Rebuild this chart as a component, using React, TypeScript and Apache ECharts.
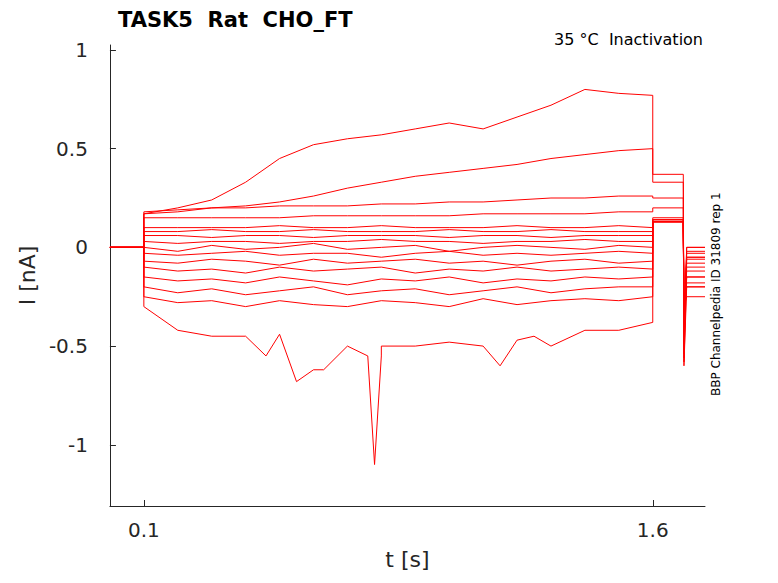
import React, { useEffect, useRef } from 'react';
import * as echarts from 'echarts';

// sample times during the step (s)
const stepTimes = [0.1, 0.2, 0.3, 0.4, 0.5, 0.6, 0.7, 0.8, 0.9, 1.0, 1.1, 1.2, 1.3, 1.4, 1.5, 1.6];
const xTicks = [0.1, 1.6];
const yTicks = [-1, -0.5, 0, 0.5, 1];

// current (nA) at stepTimes for each sweep
const sweeps: number[][] = [
  [0.17, 0.2, 0.24, 0.33, 0.45, 0.52, 0.55, 0.57, 0.6, 0.63, 0.6, 0.66, 0.72, 0.8, 0.78, 0.77],
  [0.17, 0.18, 0.2, 0.21, 0.23, 0.26, 0.3, 0.33, 0.36, 0.38, 0.4, 0.42, 0.45, 0.47, 0.49, 0.5],
  [0.18, 0.19, 0.2, 0.2, 0.21, 0.21, 0.21, 0.22, 0.22, 0.23, 0.23, 0.24, 0.25, 0.25, 0.26, 0.26],
  [0.15, 0.15, 0.15, 0.15, 0.15, 0.16, 0.16, 0.16, 0.16, 0.16, 0.17, 0.17, 0.17, 0.17, 0.18, 0.18],
  [0.1, 0.1, 0.1, 0.1, 0.11, 0.1, 0.1, 0.11, 0.1, 0.1, 0.1, 0.11, 0.1, 0.1, 0.11, 0.1],
  [0.08, 0.08, 0.09, 0.08, 0.08, 0.09, 0.08, 0.08, 0.08, 0.09, 0.08, 0.08, 0.09, 0.08, 0.08, 0.08],
  [0.06, 0.06, 0.05, 0.06, 0.06, 0.05, 0.06, 0.06, 0.06, 0.05, 0.06, 0.06, 0.05, 0.06, 0.06, 0.06],
  [0.03, 0.02, 0.03, 0.03, 0.02, 0.03, 0.03, 0.04, 0.03, 0.03, 0.02, 0.03, 0.03, 0.04, 0.03, 0.03],
  [0.0, -0.02, 0.01, -0.01, 0.0, 0.02, -0.01, 0.0, 0.01, -0.02, 0.0, 0.01, 0.0, -0.01, 0.01, 0.0],
  [-0.03, -0.04, -0.03, -0.02, -0.04, -0.03, -0.03, -0.05, -0.03, -0.02, -0.04, -0.03, -0.04, -0.03, -0.02, -0.03],
  [-0.07, -0.08, -0.06, -0.07, -0.09, -0.06, -0.08, -0.07, -0.06, -0.08, -0.07, -0.09, -0.07, -0.06, -0.08, -0.07],
  [-0.1, -0.12, -0.11, -0.13, -0.1, -0.12, -0.11, -0.1, -0.13, -0.11, -0.12, -0.1, -0.12, -0.11, -0.1, -0.11],
  [-0.15, -0.17, -0.16, -0.18, -0.15, -0.17, -0.19, -0.16, -0.17, -0.15, -0.18, -0.16, -0.17, -0.15, -0.16, -0.15],
  [-0.2, -0.23, -0.21, -0.24, -0.22, -0.2, -0.24, -0.22, -0.21, -0.24, -0.22, -0.2, -0.23, -0.21, -0.2, -0.2],
  [-0.25, -0.28, -0.27, -0.3, -0.27, -0.29, -0.3, -0.27, -0.28, -0.3, -0.26, -0.29, -0.27, -0.26, -0.27, -0.25],
  [-0.3, -0.42, -0.45, -0.45, -0.44, -0.62, -0.5, -0.55, -0.5, -0.48, -0.5, -0.47, -0.5, -0.42, -0.42, -0.38],
];
// current after the step (1.6–1.69 s) and after 1.69 s
const tailHigh = [0.37, 0.33, 0.25, 0.2, 0.15, 0.14, 0.14, 0.14, 0.13, 0.13, 0.13, 0.13, 0.13, 0.13, 0.13, 0.13];
const tailLow = [-0.2, -0.15, -0.05, 0.0, 0.0, -0.02, -0.03, -0.05, -0.06, -0.08, -0.1, -0.12, -0.15, -0.18, -0.2, -0.25];
// extra spikes in the bottom sweep: [t, nA]
const bottomSpikes = [[0.46, -0.55], [0.55, -0.68], [0.63, -0.62], [0.7, -0.5], [0.76, -0.55], [0.78, -1.1], [0.8, -0.5], [1.15, -0.6], [1.25, -0.45]];

const App: React.FC = () => {
  const chartRef = useRef<HTMLDivElement>(null);

  useEffect(() => {
    if (!chartRef.current) return;
    const chart = echarts.init(chartRef.current, null, { renderer: 'svg' });

    const series = sweeps.map((vals, i) => {
      let pts: number[][] = stepTimes.map((t, j) => [t, vals[j]]);
      if (i === sweeps.length - 1) {
        pts = pts.concat(bottomSpikes).sort((a, b) => a[0] - b[0]);
      }
      const data = [[0, 0], [0.095, 0], [0.1, 0], ...pts,
        [1.6, tailHigh[i]], [1.69, tailHigh[i]], [1.692, -0.6 + i * 0.02], [1.7, tailLow[i]], [1.754, tailLow[i]]];
      return {
        type: 'line',
        data,
        showSymbol: false,
        lineStyle: { color: '#ff0000', width: 1 },
        silent: true,
      };
    });

    const axisText = { color: '#262626', fontSize: 20, fontFamily: 'DejaVu Sans' };
    chart.setOption({
      animation: false,
      grid: { left: 93, right: 65, top: 37, bottom: 63 },
      title: {
        text: 'TASK5  Rat  CHO_FT',
        left: 105, top: -4,
        textStyle: { fontSize: 21, fontWeight: 'bold', color: '#000', fontFamily: 'DejaVu Sans' },
      },
      graphic: [
        { type: 'text', right: 67, top: 23, style: { text: '35 °C  Inactivation', fontSize: 16, fill: '#000', fontFamily: 'DejaVu Sans' } },
        { type: 'text', x: 702, y: 388, rotation: Math.PI / 2, style: { text: 'BBP Channelpedia ID 31809 rep 1', fontSize: 12, fill: '#000', fontFamily: 'DejaVu Sans' } },
      ],
      xAxis: {
        type: 'value', min: 0, max: 1.754,
        name: 't [s]', nameLocation: 'middle', nameGap: 42, nameTextStyle: { ...axisText, fontSize: 22 },
        axisLine: { onZero: false, lineStyle: { color: '#262626' } },
        axisTick: { inside: true, length: 6, customValues: xTicks, lineStyle: { color: '#262626' } },
        axisLabel: { ...axisText, customValues: xTicks, margin: 14 },
        splitLine: { show: false },
      },
      yAxis: {
        type: 'value', min: -1.31, max: 1.025,
        name: 'I [nA]', nameLocation: 'middle', nameGap: 58, nameTextStyle: { ...axisText, fontSize: 22 },
        axisLine: { show: true, onZero: false, lineStyle: { color: '#262626' } },
        axisTick: { show: true, inside: true, length: 6, customValues: yTicks, lineStyle: { color: '#262626' } },
        axisLabel: { ...axisText, customValues: yTicks, margin: 22 },
        splitLine: { show: false },
      },
      series,
    });

    return () => chart.dispose();
  }, []);

  return <div ref={chartRef} style={{ width: 762, height: 567, background: '#fff' }} />;
};

export default App;
